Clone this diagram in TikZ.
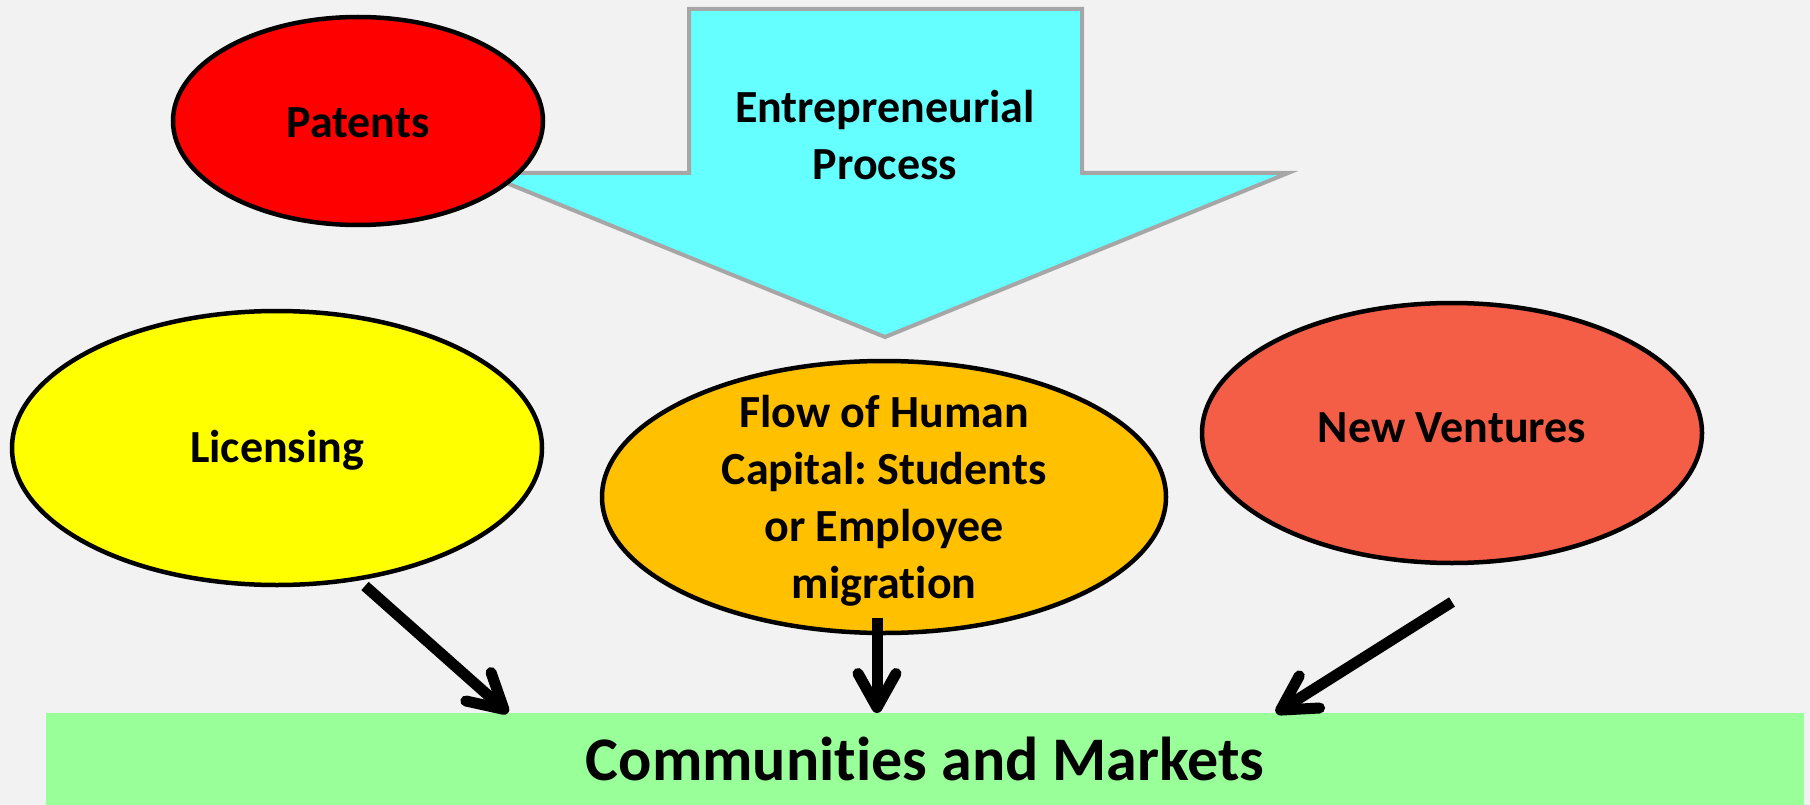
\documentclass[tikz,border=0pt]{standalone}
\usepackage{fontspec}
\setmainfont{Carlito}[Ligatures=NoCommon]
\usetikzlibrary{shapes.geometric,arrows.meta}
\definecolor{bgc}{HTML}{F2F2F2}
\definecolor{cyanfill}{HTML}{66FFFF}
\definecolor{greyline}{HTML}{A6A6A6}
\definecolor{patred}{HTML}{FF0000}
\definecolor{licyel}{HTML}{FFFF00}
\definecolor{floworange}{HTML}{FFC000}
\definecolor{nvred}{HTML}{F45E47}
\definecolor{cmgreen}{HTML}{99FF99}
\frenchspacing
\begin{document}
\begin{tikzpicture}[x=1pt,y=-1pt,
  blob/.style={ellipse,draw=black,line width=4.5pt,inner sep=0pt},
  blobtext/.style={align=center,font=\fontsize{46}{57}\selectfont\bfseries},
  conn/.style={line width=11pt,-{Straight Barb[length=34pt,width=38pt,round]}}]
\useasboundingbox (0,0) rectangle (1810,805);
\fill[bgc] (0,0) rectangle (1810,805);
% big arrow
\draw[greyline,fill=cyanfill,line width=4pt,line join=miter]
  (689,9) -- (1082,9) -- (1082,173) -- (1288,173) -- (885,337) -- (482,173) -- (689,173) -- cycle;
\node[blobtext] (ep) at (885,135) {Entrepreneurial\\Process};
% ellipses
\node[blob,fill=patred,minimum width=370pt,minimum height=208pt] (pat) at (358,121) {};
\node[blobtext] (patt) at (358,123) {Patents};
\node[blob,fill=licyel,minimum width=530pt,minimum height=274pt] (lic) at (277,448) {};
\node[blobtext] (lict) at (277,450) {Licensing};
\node[blob,fill=floworange,minimum width=564pt,minimum height=272pt] (flow) at (884,497) {};
\node[blobtext] (flowt) at (884,501) {Flow of Human\\Capital: Students\\or Employee\\migration};
\node[blob,fill=nvred,minimum width=500pt,minimum height=260pt] (nv) at (1452,433) {};
\node[blobtext] (nvt) at (1452,428) {New Ventures};
% bottom box
\node[fill=cmgreen,anchor=north west,inner sep=0pt,minimum width=1758pt,minimum height=92pt,
  font=\fontsize{62}{70}\selectfont\bfseries] (cm) at (46,713) {Communities and Markets};
% connectors
\coordinate (s1) at (365,586);
\coordinate (t1) at (508,713);
\coordinate (s2) at (877,618);
\coordinate (t2) at (877,713);
\coordinate (s3) at (1452,602);
\coordinate (t3) at (1276,713);
\draw[conn] (s1) -- (t1);
\draw[conn] (s2) -- (t2);
\draw[conn] (s3) -- (t3);
\end{tikzpicture}
\end{document}
